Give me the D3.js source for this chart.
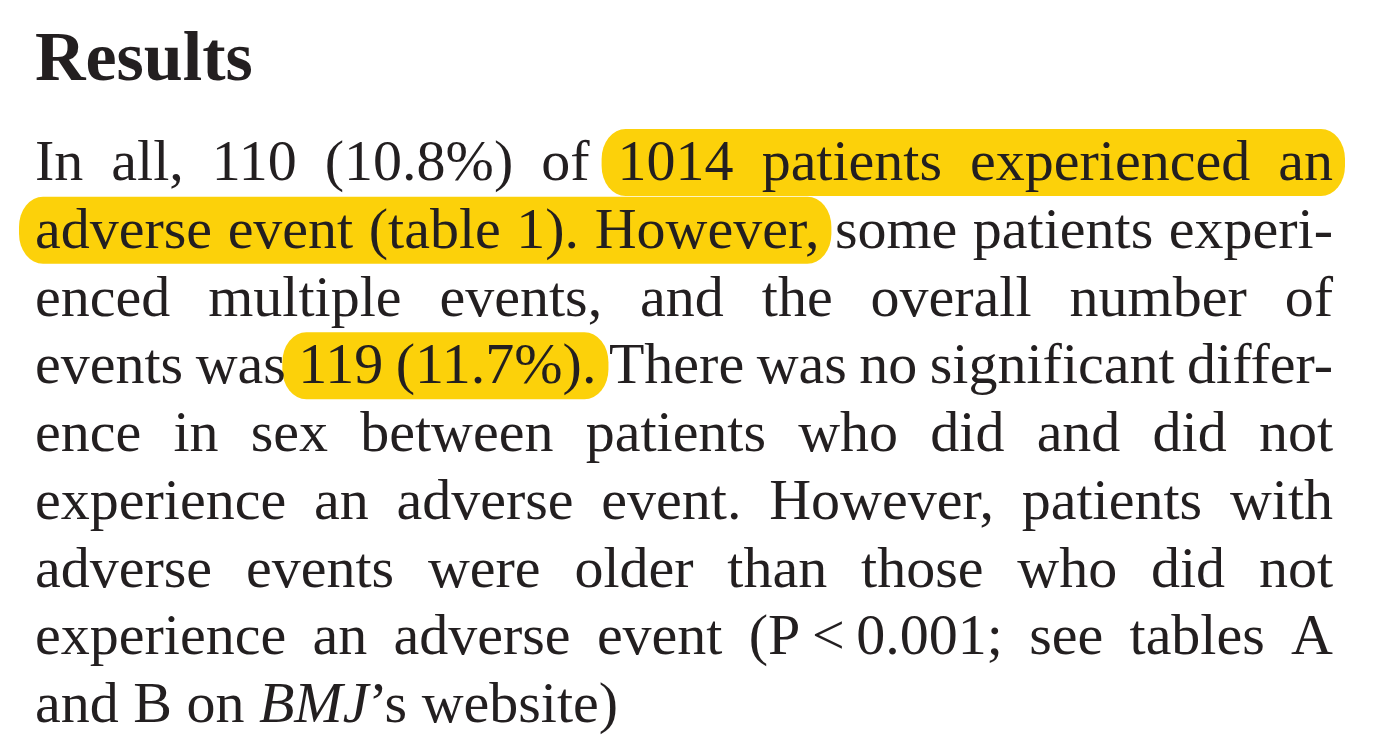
<!DOCTYPE html>
<html>
<head>
<meta charset="utf-8">
<script src="https://cdn.jsdelivr.net/npm/d3@7"></script>
<style>
  html, body { margin: 0; padding: 0; background: #fff; }
  svg { display: block; }
</style>
</head>
<body>
<svg id="page"></svg>
<script>
// text of the page, one entry per typeset line
var heading = 'Results';
var lines = [
  'In all, 110 (10.8%) of 1014 patients experienced an',
  'adverse event (table 1). However, some patients experi-',
  'enced multiple events, and the overall number of',
  'events was 119 (11.7%). There was no significant differ-',
  'ence in sex between patients who did and did not',
  'experience an adverse event. However, patients with',
  'adverse events were older than those who did not',
  'experience an adverse event (P\u2009<\u20090.001; see tables A',
  'and B on _BMJ_\u2019s website)'
];
// highlighted runs: line index, first word, last word
var markLines = [0, 1, 3];
var markFrom = [5, 0, 2];
var markTo = [8, 4, 3];

var W = 1400, H = 740;
var font = '"Liberation Serif", "Times New Roman", serif';
var size = 58;
var ink = '#231f20';
var yellow = '#fcd10a';

var svg = d3.select('#page').attr('width', W).attr('height', H);
svg.append('rect').attr('width', W).attr('height', H).attr('fill', '#fff');

var x = d3.scaleLinear().domain([0, 1]).range([35, 1333]);
var y = d3.scaleLinear().domain([0, lines.length - 1]).range([180, 722]);

svg.append('text')
  .attr('x', x(0)).attr('y', 80)
  .attr('font-family', font).attr('font-weight', 'bold')
  .attr('font-size', 70).attr('fill', ink)
  .text(heading);

var hl = svg.append('g');
var body = svg.append('g')
  .attr('font-family', font).attr('font-size', size).attr('fill', ink);

var spaceW = size * 0.25;
var placed = [];

lines.forEach(function (line, i) {
  var words = line.split(' ');
  var g = body.append('g');
  var nodes = words.map(function (w) {
    var t = g.append('text').attr('y', y(i));
    w.split('_').forEach(function (seg, k) {
      if (!seg) return;
      t.append('tspan').attr('font-style', k % 2 ? 'italic' : null).text(seg);
    });
    return t;
  });
  var widths = nodes.map(function (t) { return t.node().getComputedTextLength(); });
  var total = d3.sum(widths);
  var last = i === lines.length - 1;
  var gap = last ? spaceW : (x(1) - x(0) - total) / (words.length - 1);
  var cur = x(0), starts = [], ends = [];
  nodes.forEach(function (t, k) {
    t.attr('x', cur);
    starts.push(cur);
    ends.push(cur + widths[k]);
    cur += widths[k] + gap;
  });
  placed.push({ starts: starts, ends: ends });
});

markLines.forEach(function (li, k) {
  var p = placed[li];
  var x0 = p.starts[markFrom[k]] - 16;
  var x1 = p.ends[markTo[k]] + 12;
  hl.append('rect')
    .attr('x', x0).attr('y', y(li) - 51)
    .attr('width', x1 - x0).attr('height', 67)
    .attr('rx', 24).attr('ry', 30)
    .attr('fill', yellow);
});
</script>
</body>
</html>
